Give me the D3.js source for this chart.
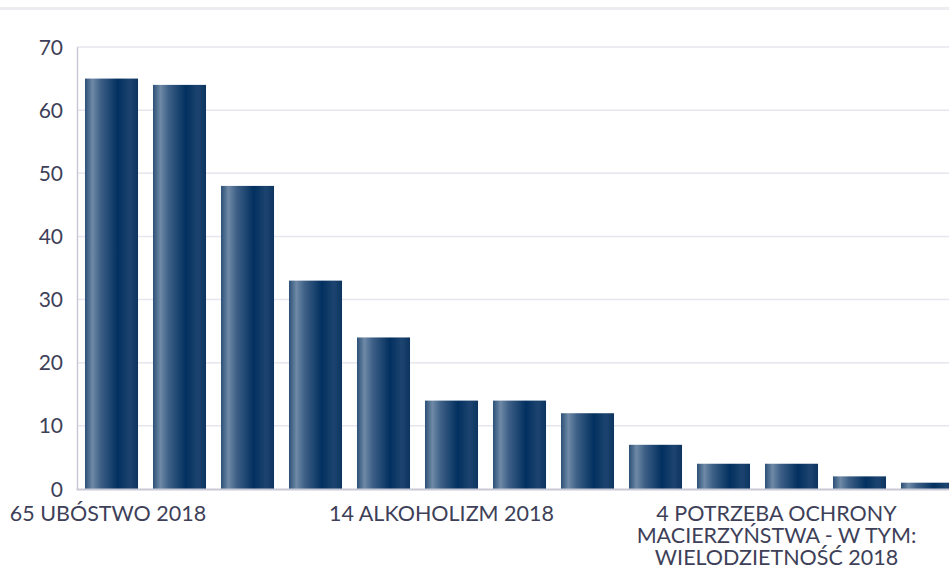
<!DOCTYPE html>
<html>
<head>
<meta charset="utf-8">
<script src="https://cdn.jsdelivr.net/npm/d3@7"></script>
<style>
  body { margin: 0; background: #fff; overflow: hidden; }
  svg { display: block; font-family: Lato, "Open Sans", sans-serif; }
</style>
</head>
<body>
<svg id="chart" width="949" height="568"></svg>
<script>
// data
const categories = [
  "65 UBÓSTWO 2018", "", "", "", "",
  "14 ALKOHOLIZM 2018", "", "", "", "",
  "4 POTRZEBA OCHRONY MACIERZYŃSTWA - W TYM: WIELODZIETNOŚĆ 2018", "", ""
]
const values = [65, 64, 48, 33, 24, 14, 14, 12, 7, 4, 4, 2, 1]
const yTicks = [0, 10, 20, 30, 40, 50, 60, 70]
const labelLines = {
  0: ["65 UBÓSTWO 2018"],
  5: ["14 ALKOHOLIZM 2018"],
  10: ["4 POTRZEBA OCHRONY", "MACIERZYŃSTWA - W TYM:", "WIELODZIETNOŚĆ 2018"]
}

const svg = d3.select("#chart")
const plotLeft = 77.5, plotTop = 47, plotBottom = 489
const step = 68

// plot runs past the right edge, as in the original
const x = d3.scaleBand()
  .domain(d3.range(values.length))
  .range([plotLeft, plotLeft + step * values.length])
  .paddingInner(0.22)
  .paddingOuter(0.11)

const y = d3.scaleLinear().domain([0, 70]).range([plotBottom, plotTop])

// bar gradient
const grad = svg.append("defs").append("linearGradient")
  .attr("id", "barGrad")
  .attr("x1", "0%").attr("x2", "100%")
grad.selectAll("stop")
  .data([
    [0, "#2c5077"], [0.14, "#6e89a6"], [0.3, "#3d5f86"],
    [0.62, "#02305f"], [0.85, "#1d4470"], [1, "#0b345f"]
  ])
  .join("stop")
  .attr("offset", (d) => d[0])
  .attr("stop-color", (d) => d[1])

// top rule
svg.append("rect")
  .attr("x", 0).attr("y", 7)
  .attr("width", 949).attr("height", 3)
  .attr("fill", "#ececf1")

// grid
svg.append("g")
  .selectAll("line")
  .data(yTicks.filter((t) => t > 0))
  .join("line")
  .attr("x1", plotLeft).attr("x2", 949)
  .attr("y1", (d) => y(d)).attr("y2", (d) => y(d))
  .attr("stroke", "#e6e6ee")
  .attr("stroke-width", 1.5)

// bars
svg.append("g")
  .selectAll("rect")
  .data(values)
  .join("rect")
  .attr("x", (d, i) => x(i))
  .attr("y", (d) => y(d))
  .attr("width", x.bandwidth())
  .attr("height", (d) => y(0) - y(d))
  .attr("fill", "url(#barGrad)")

// axes lines
svg.append("line")
  .attr("x1", plotLeft).attr("x2", plotLeft)
  .attr("y1", plotTop).attr("y2", plotBottom)
  .attr("stroke", "#c9c9d6").attr("stroke-width", 1.5)
svg.append("line")
  .attr("x1", plotLeft - 1).attr("x2", 949)
  .attr("y1", plotBottom + 0.5).attr("y2", plotBottom + 0.5)
  .attr("stroke", "#c9c9d6").attr("stroke-width", 2)

// y tick labels
svg.append("g")
  .selectAll("text")
  .data(yTicks)
  .join("text")
  .attr("x", 63)
  .attr("y", (d) => y(d) + 7.5)
  .attr("text-anchor", "end")
  .attr("font-size", 21)
  .attr("fill", "#3e3f58")
  .text((d) => d)

// x labels (every 5th category)
const shift = { 0: -3.5, 5: -10, 10: -15 }
const xl = svg.append("g")
  .selectAll("text")
  .data(categories.map((c, i) => i).filter((i) => categories[i]))
  .join("text")
  .attr("text-anchor", "middle")
  .attr("font-size", 21.5)
  .attr("fill", "#3e3f58")
  .attr("transform", (i) => `translate(${x(i) + x.bandwidth() / 2 + shift[i]}, 521)`)
xl.selectAll("tspan")
  .data((i) => labelLines[i])
  .join("tspan")
  .attr("x", 0)
  .attr("dy", (d, j) => (j === 0 ? 0 : 22))
  .text((d) => d)
</script>
</body>
</html>
